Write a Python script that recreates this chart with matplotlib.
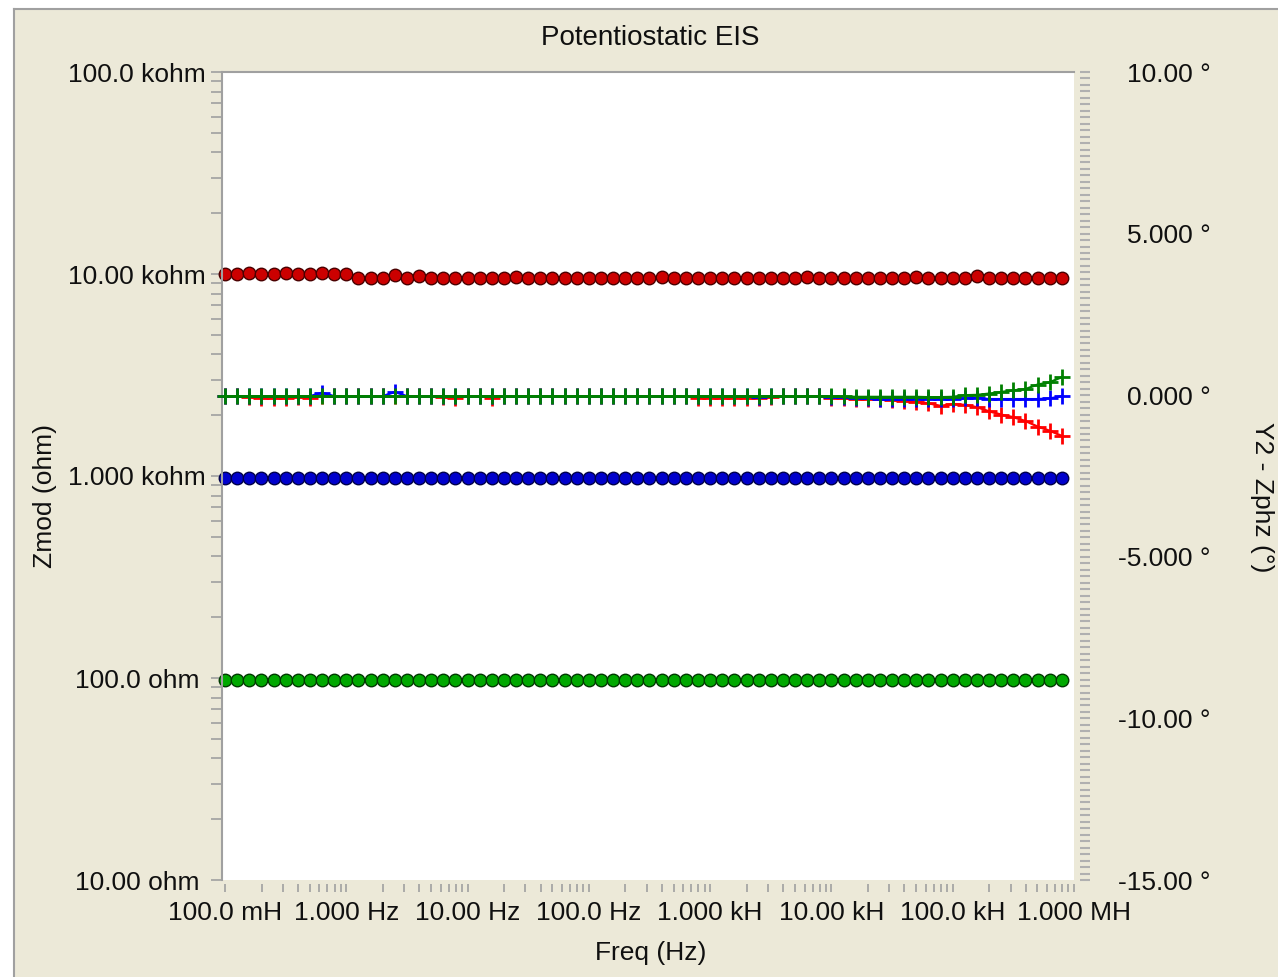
import matplotlib
matplotlib.use("Agg")
import matplotlib.pyplot as plt
from matplotlib.ticker import FixedLocator, NullFormatter, MultipleLocator
from matplotlib.patches import Rectangle
from matplotlib.lines import Line2D

plt.rcParams['font.family'] = ['Liberation Sans', 'DejaVu Sans']

# ---------------- data ----------------
freq = [0.1, 0.1259, 0.1585, 0.1995, 0.2512, 0.3162, 0.3981, 0.5012, 0.631, 0.7943,
        1.0, 1.259, 1.585, 1.995, 2.512, 3.162, 3.981, 5.012, 6.31, 7.943,
        10.0, 12.59, 15.85, 19.95, 25.12, 31.62, 39.81, 50.12, 63.1, 79.43,
        100.0, 125.9, 158.5, 199.5, 251.2, 316.2, 398.1, 501.2, 631.0, 794.3,
        1000.0, 1259.0, 1585.0, 1995.0, 2512.0, 3162.0, 3981.0, 5012.0, 6310.0, 7943.0,
        1.0e4, 1.259e4, 1.585e4, 1.995e4, 2.512e4, 3.162e4, 3.981e4, 5.012e4, 6.31e4, 7.943e4,
        1.0e5, 1.259e5, 1.585e5, 1.995e5, 2.512e5, 3.162e5, 3.981e5, 5.012e5, 6.31e5, 7.943e5]

zmod_red = [10050, 10050, 10060, 10050, 10040, 10060, 10050, 10050, 10060, 10040,
            10050, 9600, 9580, 9600, 9850, 9600, 9800, 9600, 9600, 9580,
            9600, 9590, 9600, 9600, 9610, 9600, 9590, 9600, 9600, 9600,
            9600, 9600, 9590, 9600, 9600, 9600, 9610, 9600, 9600, 9590,
            9600, 9600, 9600, 9590, 9600, 9600, 9600, 9600, 9610, 9600,
            9600, 9600, 9590, 9600, 9600, 9600, 9600, 9610, 9600, 9600,
            9600, 9600, 9800, 9600, 9600, 9590, 9600, 9600, 9600, 9600]

zmod_blue = [980, 981, 980, 979, 980, 980, 981, 980, 980, 979,
             980, 980, 981, 980, 980, 979, 980, 980, 981, 980,
             980, 980, 979, 980, 980, 981, 980, 980, 980, 979,
             980, 980, 980, 981, 980, 980, 979, 980, 980, 980,
             981, 980, 980, 980, 979, 980, 980, 981, 980, 980,
             980, 979, 980, 980, 980, 981, 980, 980, 979, 980,
             980, 980, 981, 980, 980, 980, 979, 980, 980, 980]

zmod_green = [98.0, 98.1, 98.0, 97.9, 98.0, 98.0, 98.1, 98.0, 98.0, 97.9,
              98.0, 98.0, 98.1, 98.0, 98.0, 97.9, 98.0, 98.0, 98.1, 98.0,
              98.0, 98.0, 97.9, 98.0, 98.0, 98.1, 98.0, 98.0, 98.0, 97.9,
              98.0, 98.0, 98.0, 98.1, 98.0, 98.0, 97.9, 98.0, 98.0, 98.0,
              98.1, 98.0, 98.0, 98.0, 97.9, 98.0, 98.0, 98.1, 98.0, 98.0,
              98.0, 97.9, 98.0, 98.0, 98.0, 98.1, 98.0, 98.0, 97.9, 98.0,
              98.0, 98.0, 98.1, 98.0, 98.0, 98.0, 97.9, 98.0, 98.0, 98.0]

phz_red = [-0.03, -0.03, -0.06, -0.09, -0.09, -0.09, -0.05, -0.09, -0.03, -0.03,
           -0.03, -0.03, -0.03, -0.03, -0.03, -0.03, -0.03, -0.03, -0.06, -0.09,
           -0.04, -0.03, -0.08, -0.03, -0.03, -0.03, -0.03, -0.03, -0.03, -0.03,
           -0.03, -0.03, -0.03, -0.03, -0.03, -0.03, -0.03, -0.03, -0.03, -0.08,
           -0.08, -0.09, -0.08, -0.09, -0.08, -0.06, -0.03, -0.03, -0.03, -0.03,
           -0.08, -0.10, -0.12, -0.12, -0.12, -0.15, -0.18, -0.20, -0.25, -0.33,
           -0.27, -0.30, -0.37, -0.50, -0.60, -0.68, -0.80, -0.97, -1.10, -1.26]

phz_blue = [-0.03, -0.03, -0.03, -0.03, -0.03, -0.03, -0.03, -0.03, 0.08, -0.03,
            -0.03, -0.03, -0.03, -0.03, 0.10, -0.03, -0.03, -0.03, -0.03, -0.03,
            -0.03, -0.03, -0.03, -0.03, -0.03, -0.03, -0.03, -0.03, -0.03, -0.03,
            -0.03, -0.03, -0.03, -0.03, -0.03, -0.03, -0.03, -0.03, -0.03, -0.03,
            -0.03, -0.03, -0.03, -0.03, -0.06, -0.03, -0.03, -0.03, -0.03, -0.03,
            -0.05, -0.06, -0.08, -0.10, -0.12, -0.12, -0.12, -0.12, -0.12, -0.12,
            -0.12, -0.10, -0.08, -0.12, -0.12, -0.12, -0.12, -0.12, -0.10, -0.03]

phz_green = [-0.03, -0.03, -0.03, -0.03, -0.03, -0.03, -0.03, -0.03, -0.03, -0.03,
             -0.03, -0.03, -0.03, -0.03, -0.03, -0.03, -0.03, -0.03, -0.03, -0.03,
             -0.03, -0.03, -0.03, -0.03, -0.03, -0.03, -0.03, -0.03, -0.03, -0.03,
             -0.03, -0.03, -0.03, -0.03, -0.03, -0.03, -0.03, -0.03, -0.03, -0.03,
             -0.03, -0.03, -0.03, -0.03, -0.03, -0.03, -0.03, -0.03, -0.03, -0.03,
             -0.04, -0.04, -0.05, -0.05, -0.05, -0.05, -0.05, -0.05, -0.06, -0.06,
             -0.05, 0.00, 0.01, 0.05, 0.10, 0.15, 0.19, 0.33, 0.40, 0.56]

x_ticks = [0.1, 1, 10, 100, 1e3, 1e4, 1e5, 1e6]
x_labels = ['100.0 mH', '1.000 Hz', '10.00 Hz', '100.0 Hz', '1.000 kH', '10.00 kH', '100.0 kH', '1.000 MH']
y_ticks = [10, 100, 1e3, 1e4, 1e5]
y_labels = ['10.00 ohm', '100.0 ohm', '1.000 kohm', '10.00 kohm', '100.0 kohm']
y2_ticks = [-15, -10, -5, 0, 5, 10]
y2_labels = ['-15.00 \u00b0', '-10.00 \u00b0', '-5.000 \u00b0', '0.000 \u00b0', '5.000 \u00b0', '10.00 \u00b0']

# ---------------- figure ----------------
W, H = 1278, 977
DPI = 100
fig = plt.figure(figsize=(W / DPI, H / DPI), dpi=DPI)
fig.patch.set_facecolor('white')
BG = '#ECE9D8'
GRAY = '#A0A0A0'
fig.patches.append(Rectangle((14 / W, 0), 1, 1 - 9 / H, transform=fig.transFigure,
                             facecolor=BG, edgecolor='none', zorder=-10))
fig.lines.append(Line2D([14 / W, 14 / W], [0, 1 - 9 / H], transform=fig.transFigure, color=GRAY, lw=1.5))
fig.lines.append(Line2D([14 / W, 1], [1 - 9 / H, 1 - 9 / H], transform=fig.transFigure, color=GRAY, lw=1.5))

L, R, T, B = 222, 1074, 72, 880
ax = fig.add_axes([L / W, 1 - B / H, (R - L) / W, (B - T) / H])
ax.set_facecolor('white')
ax.set_xscale('log')
ax.set_yscale('log')
ax.set_xlim(0.1 * 10 ** (-3 / 121.3), 1e6)
ax.set_ylim(10, 1e5)

FS = 19
TXT = '#101010'

# Zmod curves
for vals, fc, ec in [(zmod_red, '#CC0000', '#4A0000'),
                     (zmod_blue, '#0000CC', '#00004A'),
                     (zmod_green, '#00A800', '#003A00')]:
    ax.plot(freq, vals, '-o', color=fc, mfc=fc, mec=ec, ms=9.0, mew=1.0, lw=1, clip_on=False)

# spines
for s in ['right', 'bottom']:
    ax.spines[s].set_visible(False)
for s in ['left', 'top']:
    ax.spines[s].set_color(GRAY)
    ax.spines[s].set_linewidth(1.5)
ax.spines['bottom'].set_position(('outward', 3))

# x ticks
ax.xaxis.set_major_locator(FixedLocator(x_ticks))
ax.set_xticklabels(x_labels)
minor_x = [m * 10.0 ** e for e in range(-1, 6) for m in range(2, 10)]
ax.xaxis.set_minor_locator(FixedLocator(minor_x))
ax.xaxis.set_minor_formatter(NullFormatter())
ax.tick_params(axis='x', which='both', direction='out', length=6, width=1.2, color=GRAY,
               labelsize=FS, labelcolor=TXT, pad=6)

# left y ticks
ax.yaxis.set_major_locator(FixedLocator(y_ticks))
ax.set_yticklabels(y_labels)
minor_y = [m * 10.0 ** e for e in range(1, 5) for m in range(2, 10)]
ax.yaxis.set_minor_locator(FixedLocator(minor_y))
ax.yaxis.set_minor_formatter(NullFormatter())
ax.tick_params(axis='y', which='both', direction='out', length=8, width=1.2, color=GRAY,
               labelsize=FS, labelcolor=TXT, pad=(222 - 8 - 140) * 0.72)
for lab in ax.get_yticklabels():
    lab.set_horizontalalignment('center')

# phase axis
ax2 = ax.twinx()
ax2.set_ylim(-15, 10)
for vals, c in [(phz_red, '#FF0000'), (phz_blue, '#0000FF'), (phz_green, '#008000')]:
    ax2.plot(freq, vals, '-+', color=c, ms=11, mew=2.0, lw=1.6, clip_on=False)
for s in ['left', 'top', 'bottom', 'right']:
    ax2.spines[s].set_visible(False)
ax2.spines['right'].set_position(('outward', 4))
ax2.yaxis.set_major_locator(FixedLocator(y2_ticks))
ax2.set_yticklabels(y2_labels)
ax2.yaxis.set_minor_locator(MultipleLocator(0.2))
ax2.yaxis.set_minor_formatter(NullFormatter())
ax2.tick_params(axis='y', which='both', direction='out', length=7, width=1.5, color='#B0B0B0',
                labelsize=FS, labelcolor=TXT, pad=(1206 - R - 4 - 7) * 0.72)
for lab in ax2.get_yticklabels():
    lab.set_horizontalalignment('right')

# texts
fig.text(650 / W, 1 - 38 / H, 'Potentiostatic EIS', ha='center', va='center', fontsize=20, color=TXT)
fig.text(651 / W, 1 - 953 / H, 'Freq (Hz)', ha='center', va='center', fontsize=FS, color=TXT)
fig.text(45 / W, 1 - 496 / H, 'Zmod (ohm)', ha='center', va='center', rotation=90, fontsize=FS, color=TXT)
fig.text(1262 / W, 1 - 497 / H, 'Y2 - Zphz (\u00b0)', ha='center', va='center', rotation=270, fontsize=FS, color=TXT)

fig.savefig('out.png', dpi=DPI, facecolor=fig.get_facecolor())
